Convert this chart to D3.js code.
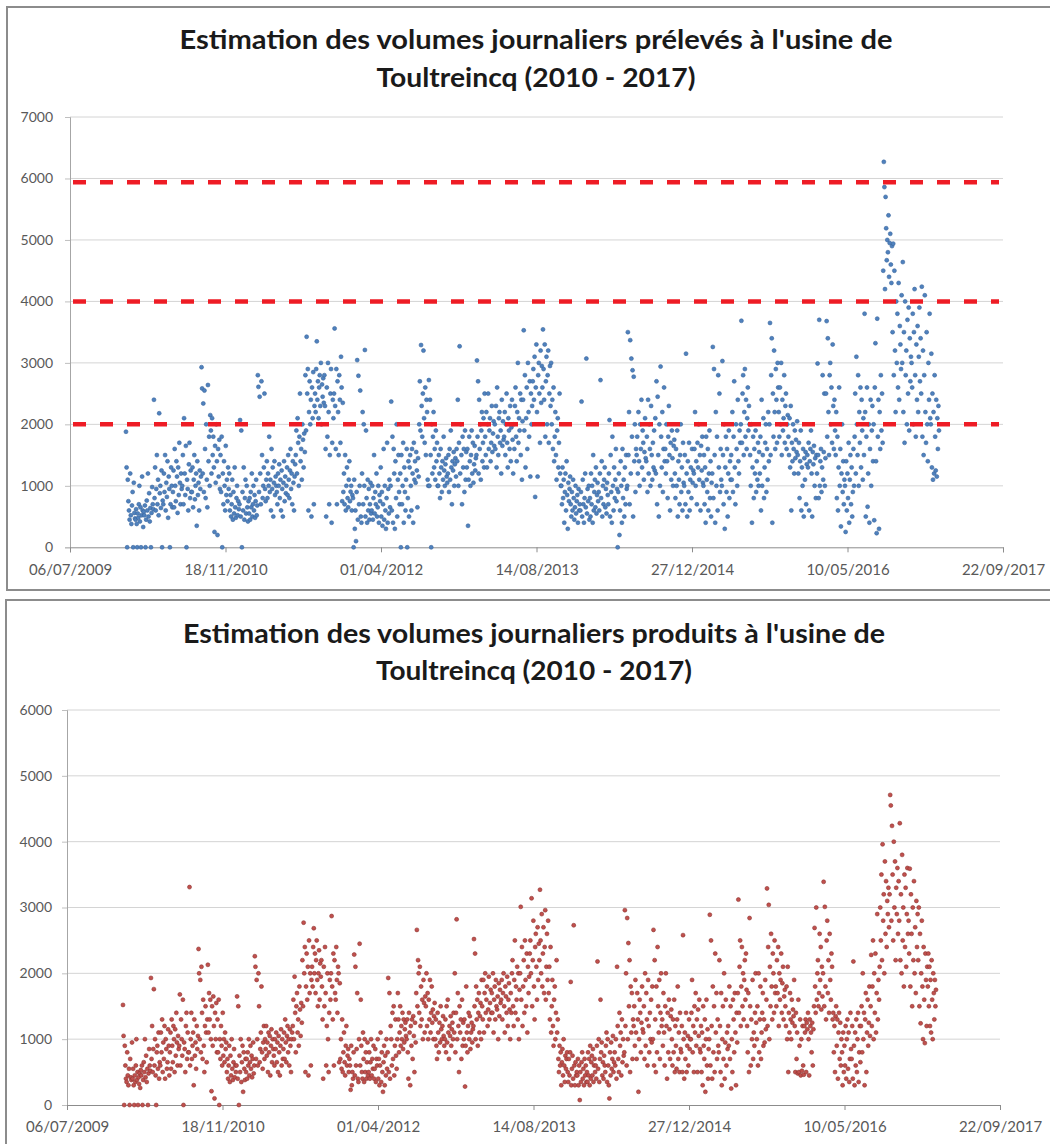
<!DOCTYPE html>
<html><head><meta charset="utf-8">
<script src="https://cdn.jsdelivr.net/npm/d3@7"></script>
<style>body{margin:0;background:#fff} svg{display:block}</style>
</head><body>
<svg id="c" width="1050" height="1144"></svg>
<script>
// ---------- DATA ----------
const firstMonth = "2010-01-01";
const lastMonthEnd = "2017-03-01";
const xTicks = ["2009-07-06","2010-11-18","2012-04-01","2013-08-14","2014-12-27","2016-05-10","2017-09-22"];
const yTicksTop = [0,1000,2000,3000,4000,5000,6000,7000];
const yTicksBottom = [0,1000,2000,3000,4000,5000,6000];
const seuils = [2000, 4000, 5940];
const titleTop = ["Estimation des volumes journaliers prélevés à l'usine de", "Toultreincq (2010 - 2017)"];
const titleBottom = ["Estimation des volumes journaliers produits à l'usine de", "Toultreincq (2010 - 2017)"];

// Volumes prélevés (m3/j), one list per month from 2010-01 to 2017-02
const preleves = [
[1880,1300,0,1100,750,600,450,1200,520,380,680,900,0,1050,560,470],
[450,620,380,0,550,480,700,1000,420,650,0,520,1150,600,330,580],
[520,680,0,450,760,600,1200,500,880,420,640,0,560,980,700,620],
[2400,800,1300,600,950,1500,700,1100,520,2180,880,1000,640,1250,0,760],
[700,1200,900,1500,600,1050,820,1400,480,1150,950,0,700,1300,1000,650],
[900,1250,650,1600,1000,750,1400,1150,560,1300,850,1700,1050,700,1200,950],
[1000,1500,700,2100,1200,850,1650,0,1100,950,600,1350,1700,800,1250,900],
[900,1300,650,1100,1500,780,1000,1200,350,1400,850,1050,600,1250,950,1150],
[2930,2585,1200,2340,900,2550,1600,800,2000,1100,650,2640,1400,1800,1000,2150],
[1900,1200,2100,1500,1800,1300,250,1650,1050,2000,1400,200,1600,1150,1750,950],
[1500,900,1800,0,1200,700,1400,1000,600,1650,850,1100,750,1300,950,1200],
[600,850,500,700,1100,450,900,550,1300,650,480,800,1000,520,750,620],
[700,2070,500,1900,0,900,600,1300,450,800,1100,550,1000,650,420,750],
[550,800,450,900,650,1200,500,700,1000,600,850,480,750,1100,520,680],
[2800,2610,900,2450,1200,700,2700,1500,800,1000,1300,2500,950,750,1100,1400],
[800,1200,1000,1800,900,1100,600,1600,950,1300,500,1050,1400,850,1150,1000],
[900,700,1200,1000,1350,800,1100,600,1250,950,500,1050,1400,750,1150,880],
[1000,1300,850,1500,1100,800,1250,1600,950,1200,700,1400,1050,600,1150,1350],
[1500,1900,1200,2100,1700,1000,1800,2500,1400,1600,1100,2000,1750,1300,1850,1550],
[2800,1900,3425,2500,2900,600,2200,2700,2000,2400,500,2600,2100,2850,700,2300],
[2500,2200,2900,3350,2400,2700,2100,2600,2800,2300,3000,2000,2650,2450,2750,2350],
[2800,2300,1600,500,2600,1800,3000,2200,700,1500,2500,2900,400,1700,2400,2100],
[2500,3560,2300,1600,2900,700,2700,2200,1500,2800,2400,1700,3100,2600,750,2350],
[900,1200,700,1500,600,1000,1300,800,650,1100,1400,750,905,1000,600,850],
[800,0,1100,300,600,100,900,3045,450,2790,700,1000,2550,500,400,1200],
[2200,700,2000,1000,3210,500,1900,800,400,1100,600,950,450,700,1050,550],
[600,1000,450,800,1500,550,900,700,1200,500,650,1000,400,850,750,1300],
[500,900,350,700,1600,450,1000,600,300,800,1700,400,950,550,1100,650],
[1000,2370,600,1800,400,1600,1200,300,1400,800,2000,500,1100,1500,900,700],
[1200,0,1500,700,1000,1700,400,1300,900,600,1100,1600,0,800,1400,500],
[1300,1500,1000,600,1600,1200,400,1700,1100,1400,1050,1550,1250,650,1450,1150],
[2000,2700,1900,3290,2300,1800,2500,3200,2100,1700,2600,1500,2400,2200,1100,1000],
[2720,1000,2400,1500,0,2000,1200,1800,2200,1300,1600,1100,1900,1400,1700,1000],
[1000,1500,1200,800,1600,1300,900,1400,1100,1800,1250,1000,1350,1450,1150,1050],
[1200,1500,900,1600,1100,1900,1300,700,1400,1250,1550,1000,1350,1450,1150,1600],
[1400,2400,1000,1700,3270,1200,2000,1500,700,1800,1300,1600,900,1900,1100,1550],
[1300,1600,350,1100,1800,1400,1000,1500,1900,1200,1700,1050,1350,1650,1250,1450],
[1500,3040,1800,2700,1200,2400,1600,2000,1100,1900,2200,1400,1700,2100,1300,2500],
[1800,1500,2200,1300,2000,2500,1600,1900,2100,1400,1700,2300,1550,1850,2050,1650],
[2000,1600,2300,1300,2600,1800,1500,2100,2200,1700,1900,1200,2400,1650,2050,1750],
[1800,2200,1500,2000,2500,1700,1300,2100,1900,1600,2300,1400,1950,2400,1750,1200],
[2000,1600,2300,2600,1800,1400,2200,3000,1700,2100,1900,2500,1500,2400,1100,2050],
[2400,3530,1900,2800,1300,2100,2600,1600,3000,2200,1800,2700,1150,2500,2000,2300],
[2700,2900,2400,3100,820,2600,3300,2200,1150,2800,3000,2500,1700,3200,2350,2950],
[2600,3545,2900,2400,3300,1800,2700,3100,2000,2800,3200,1700,2500,2950,2300,3000],
[2000,2400,1600,2600,1400,1800,2200,1500,1100,1900,2100,1300,1700,2500,1200,1000],
[1000,700,1300,800,1100,400,900,1200,600,1400,850,300,1050,750,950,1150],
[700,500,900,600,1100,800,450,650,1000,550,750,850,400,950,600,700],
[600,900,2370,500,1100,700,400,800,1200,650,3070,550,950,750,1000,450],
[800,500,1200,700,1000,400,1500,600,900,1100,650,1300,550,850,1050,750],
[900,600,1200,2720,800,1400,500,1000,700,1100,1300,650,950,550,1050,850],
[700,1200,2070,500,1500,900,400,1800,1000,600,1300,800,1100,1600,750,950],
[0,900,1200,200,600,1400,1000,400,1600,800,1100,500,1300,700,1500,950],
[1000,3500,1500,2200,700,3370,1200,3070,1800,2880,500,2775,1400,2000,900,1600],
[1500,1800,1200,2200,1400,1000,2000,1600,2400,1300,1900,1700,1100,1550,2100,1450],
[1400,1800,900,2400,1200,2000,1600,1000,2300,1500,1100,1700,1300,1900,1250,2100],
[1200,2700,700,2450,1500,500,2000,1000,2940,1800,1300,2200,900,1600,2600,1400],
[1600,1200,2000,1400,800,1800,2300,1500,600,1700,1100,1900,1450,1000,1650,1750],
[1200,800,1600,1000,1900,500,1400,1100,700,1500,2000,900,1300,600,1700,1050],
[1000,1500,700,3150,1200,500,1400,900,1700,600,1100,1300,800,1600,1050,1250],
[1200,1600,2200,1000,1400,700,1700,1300,2000,1100,1500,600,1650,1250,1800,1050],
[1000,1500,700,1300,400,1800,1100,900,1600,600,1200,1900,800,1400,500,1050],
[1200,3260,800,2900,1500,400,2200,1000,1800,600,2800,1300,2500,900,1600,1100],
[1000,3030,1500,700,2000,300,1300,1800,900,1600,500,1200,1900,800,1400,1100],
[1500,1100,2200,900,1800,2700,1300,700,2000,1600,1000,2400,1400,1200,1900,1700],
[2000,3685,1700,2500,2800,1500,2200,2900,1800,2400,1600,2100,2600,1900,2300,2000],
[1500,1000,2000,400,1300,1800,800,1600,1200,1900,900,1400,1100,1700,1000,1550],
[1200,1800,600,2400,1000,1500,2100,800,1300,1700,2000,900,1600,1100,2200,1400],
[2000,3650,1500,2800,3400,400,2500,1800,3200,2200,1600,2900,2400,1700,3000,2600],
[2200,1800,2600,2000,3000,1500,2400,1900,2100,2800,1700,2300,2500,1600,2000,2150],
[1800,1500,2100,1300,2300,600,1700,1400,2000,1600,1200,1900,1450,1750,1550,2050],
[1500,1200,1700,800,1400,1900,600,1300,1000,1600,500,1450,1100,1550,700,1350],
[1500,1300,1700,600,1400,1600,1900,1200,500,1550,1350,1650,1000,1450,800,1500],
[1200,2990,1500,800,3700,1000,1400,1600,900,1300,2800,1100,1550,2500,1000,1450],
[2500,3680,1800,3400,2200,1500,2800,3000,2000,2600,1700,3300,2300,1600,2400,1900],
[1500,2200,800,1800,600,1300,2600,1000,1600,340,1200,2000,900,1400,700,1100],
[1000,250,1400,600,1200,800,1700,400,1100,1500,700,1300,500,900,1600,1000],
[1800,2500,1200,3100,2000,1500,2800,1000,2200,1700,2600,1300,2400,1900,1100,2100],
[1500,3800,2200,500,1800,2600,660,1200,2000,400,1600,2400,1000,1900,2300,1400],
[2000,440,2600,3320,1400,230,3720,1800,2400,300,2200,1600,2800,1900,2500,1700],
[4500,6270,5860,4200,5700,5190,4670,5000,4800,5400,4400,4950,5100,4600,4300,4900],
[3500,4940,2800,4500,3200,2200,4000,3000,3800,2600,4300,2400,3600,3300,2900,4100],
[3000,4640,2200,3500,1700,4000,2800,3200,2000,3700,2500,3900,1900,3400,2700,3100],
[3000,2600,3800,2000,3500,4200,2800,1800,3300,2400,3600,2200,3100,3900,2700,3400],
[2500,4240,1800,3200,1500,2800,4100,2200,1700,3500,2000,1400,3000,2400,3800,2100],
[2000,3150,1300,2500,1100,2200,1200,2800,1800,1250,2400,1150,2100,1600,2300,1900]
];

// Volumes produits (m3/j), one list per month from 2010-01 to 2017-02
const produits = [
[1520,1050,0,900,600,400,350,800,450,300,550,0,700,420,380,950],
[400,550,300,0,450,350,600,1000,380,500,0,420,320,480,260,530],
[450,600,0,380,650,500,1000,420,750,350,550,0,480,850,600,520],
[1930,700,1200,500,850,1760,600,1000,450,0,800,900,550,1100,400,650],
[600,1100,800,1300,500,950,700,1200,400,1000,850,550,650,1150,900,450],
[800,1100,550,1300,900,650,1200,1000,500,1150,750,1400,950,600,1050,850],
[900,1680,600,1300,1000,750,1600,0,950,850,500,1200,1400,700,1100,800],
[800,3310,600,1000,1400,700,900,1100,300,1300,750,950,550,1200,850,1050],
[2370,2000,1000,1900,800,2100,1400,700,1600,900,500,1200,1500,1100,650,1300],
[2130,1100,1700,1300,1600,1000,210,1500,900,1650,1200,100,1400,1000,1550,800],
[1300,800,1600,0,1000,700,1200,900,600,1400,750,1000,650,1100,850,950],
[500,700,400,600,900,350,750,450,1000,550,380,650,850,420,600,500],
[600,1650,400,1500,0,750,500,1000,350,650,900,200,800,550,380,700],
[500,700,400,800,600,1000,450,650,900,550,750,420,700,950,480,600],
[2260,2100,700,1900,1000,600,2000,1500,650,850,1100,1800,800,550,950,1200],
[700,1000,850,1200,750,950,500,1100,800,1050,450,900,1150,650,1000,850],
[750,600,1000,850,1100,650,950,500,1050,800,450,900,1150,600,1000,700],
[850,1100,700,1300,950,650,1050,1200,800,1000,600,1150,900,500,1000,1100],
[1200,1600,1000,1950,1400,800,1500,1700,1100,1300,900,1800,1450,1050,1550,1250],
[2200,1500,2770,2000,2400,500,1800,2300,1600,2100,450,2500,1700,2000,600,1900],
[2100,1800,2400,2685,2000,2300,1700,2200,2500,1900,1500,2000,2350,1600,2150,1950],
[2200,1800,1300,400,2100,1500,2400,1700,600,1200,2000,1000,500,1400,1900,1600],
[2000,2870,1800,1300,2300,600,2200,1700,1600,2400,1900,1400,2100,2000,650,1850],
[700,1000,550,1300,500,800,1100,650,450,900,1200,600,750,850,500,700],
[600,230,900,300,500,400,800,2285,450,2100,600,850,1700,400,350,1000],
[2450,600,1600,900,500,400,1100,700,350,1000,500,800,400,650,950,450],
[500,800,400,650,1000,450,700,550,900,400,550,850,350,700,600,1000],
[400,700,300,600,1100,350,800,500,200,650,900,300,750,450,1000,550],
[800,1930,500,1700,400,1200,1000,600,1400,700,1500,450,900,1300,750,550],
[1000,1700,1300,800,1100,1500,900,1200,1000,1400,850,1300,950,1150,1250,1050],
[1000,1300,800,400,1400,1100,300,1200,900,1300,700,1350,1050,500,1250,950],
[1700,2660,1500,2200,2000,1400,2100,1200,1800,1300,1600,1000,1900,1550,1100,1650],
[1500,2000,1200,1700,1000,1600,1300,1900,1100,1400,1800,1250,1450,1000,1350,1550],
[1000,1300,900,700,1400,1100,800,1250,950,1500,1150,1000,1200,1350,1050,900],
[1000,1300,800,1500,950,1600,1100,700,1200,1050,1350,900,1150,1250,1000,1400],
[1100,2000,800,1400,2820,1000,1700,1200,500,1500,1100,1300,700,1600,900,1250],
[1000,1300,280,900,1800,1100,800,1200,1400,1000,1350,850,1100,1250,950,1150],
[1200,2520,1500,2300,1000,1800,1300,1600,900,1400,1700,1100,1350,1550,1000,1900],
[1500,1300,1900,1100,1700,2000,1400,1600,1800,1200,1450,1950,1300,1550,1750,1400],
[1700,1400,2000,1100,1600,1800,1300,1900,1500,1450,1650,1000,1850,1350,1750,1550],
[1600,1900,1300,1700,2000,1500,1100,1800,1650,1400,1950,1200,1600,1850,1450,1000],
[1700,1400,2000,2200,1500,1200,1900,2500,1400,1800,1600,2100,1300,2000,1000,1750],
[2000,3010,1600,2400,1200,1800,2200,1400,2500,1900,1500,2300,1100,2100,1700,1950],
[2300,2500,2000,3140,1500,2200,2800,1800,1300,2400,2600,2100,1600,2700,1900,2450],
[2200,3270,2500,2000,2900,1800,2300,2700,1700,2400,2960,1600,2100,2600,1900,2800],
[1700,2100,1300,2400,1100,1500,1900,1200,900,1600,1800,1000,1400,2200,1100,1300],
[700,500,900,600,800,300,650,850,450,1000,600,350,750,550,700,800],
[500,350,700,450,800,1870,300,550,750,400,2730,600,300,650,450,500],
[450,700,300,600,75,500,350,650,800,400,550,300,700,450,600,350],
[500,350,800,450,700,300,900,400,650,750,450,850,350,600,700,500],
[600,400,900,2180,550,1000,350,700,1600,800,950,450,650,400,750,600],
[500,900,1100,350,1000,600,300,100,800,450,950,550,700,1050,500,650],
[800,600,1000,400,2100,1200,700,500,1400,900,1100,450,1300,650,1000,750],
[800,2960,1200,2000,600,2840,1000,2460,1500,2200,500,1800,1100,1700,700,1300],
[1200,1500,900,1900,1100,700,1700,1300,200,1000,1600,1400,800,1250,1800,1150],
[1100,1500,700,2000,900,1700,1300,600,1900,1200,800,1400,1000,1600,950,1800],
[1000,2660,600,2200,1300,500,1800,800,2400,1500,1100,1900,700,1400,2000,1200],
[1300,900,1700,1100,600,1500,2000,1200,400,1400,800,1600,1150,700,1350,1450],
[1000,600,1300,800,1600,500,1200,900,550,1300,1800,700,1100,500,1400,850],
[800,1200,500,2580,1000,400,1100,700,1400,500,900,1050,600,1300,850,1000],
[1000,1400,1900,800,1200,500,1500,1100,1700,900,1300,500,1450,1050,1600,850],
[800,1200,500,1100,300,1500,900,700,1300,200,1000,1600,600,1150,400,850],
[1000,2890,600,2500,1200,400,1800,800,1500,500,2300,1100,1700,700,1300,900],
[800,2200,1200,500,1700,300,1000,1500,700,2000,400,950,1600,600,1100,850],
[1200,900,1800,700,1500,250,1000,500,1600,1300,800,1700,1100,300,1400,950],
[1700,3120,1400,2100,2500,1200,1800,2400,1500,2000,1300,1900,2200,1600,2300,1750],
[1200,800,1700,500,2840,1500,600,1300,1000,1900,700,1100,900,1400,2000,1250],
[1000,1500,600,2000,800,1300,1800,700,1100,1400,1700,900,1300,950,1900,1150],
[1600,3290,1200,2400,3040,1000,2100,1500,2600,1800,1300,2300,2000,1400,2500,1700],
[1800,1500,2200,1700,2400,1200,2000,1600,1900,2300,1400,1850,2100,1300,1650,1750],
[1500,1200,1800,1000,2100,500,1400,1100,1700,1300,1000,1600,1250,1450,1350,1900],
[1200,500,1400,700,1100,480,1600,500,900,1300,450,1000,520,1200,600,460],
[1200,1100,1300,500,1250,1150,1400,1000,450,1300,1200,1100,800,1250,600,1150],
[1500,2690,1800,1400,3000,1600,2000,2200,1500,1700,2600,1900,2400,1450,2100,1650],
[2000,3390,1500,3010,1800,1300,2500,2800,1700,2200,1400,2600,1900,1600,2300,2100],
[1300,1400,800,1200,500,1350,1500,900,1300,400,1100,1400,700,1250,600,1000],
[800,300,1100,500,900,600,1200,400,1000,1300,550,1100,350,700,1400,850],
[700,1200,400,2180,900,300,1100,600,1300,500,1000,1400,350,800,1200,650],
[1200,1500,800,2000,1000,1400,300,1300,1700,500,1100,1600,900,1250,1800,1050],
[1500,2280,1200,1800,2500,1000,2000,1400,2300,1100,1700,2900,1300,1900,1600,2100],
[3000,2500,3500,2200,3960,2800,3200,2000,3700,2600,3400,2400,3100,2900,3300,2700],
[3200,4710,4550,2800,4240,3500,2500,4000,3000,3700,2200,3300,2900,3600,2600,3400],
[2800,4280,2200,3200,2000,3800,2500,3000,1800,3500,2400,3300,2100,2900,3600,2600],
[2800,2300,3590,1800,3200,2600,1500,3000,2200,3400,2000,2700,1700,3100,2400,2900],
[2200,3000,1500,2600,1240,2000,2800,1800,1000,2400,1600,940,2300,1900,1200,2100],
[1800,2300,1500,2100,1200,1900,1100,2200,1600,1000,2000,1700,1300,1900,1500,1750]
];

// ---------- DRAWING ----------
const svg = d3.select("#c");
const parse = d3.utcParse("%Y-%m-%d");
const fmt = d3.utcFormat("%d/%m/%Y");
const months = d3.utcMonth.range(parse(firstMonth), parse(lastMonthEnd));

function toPoints(series) {
  const pts = [];
  series.forEach((vals, k) => {
    const m0 = months[k];
    const m1 = d3.utcMonth.offset(m0, 1);
    const span = m1 - m0;
    vals.forEach((v, i) => {
      pts.push({date: new Date(+m0 + (i + 0.5) * span / vals.length), value: v});
    });
  });
  return pts;
}

function drawChart(cfg) {
  const g = svg.append("g");
  g.append("rect")
    .attr("x", cfg.frame[0]).attr("y", cfg.frame[1])
    .attr("width", cfg.frame[2]).attr("height", cfg.frame[3])
    .attr("fill", "#fff").attr("stroke", "#8c8c8c").attr("stroke-width", 2);

  const x = d3.scaleUtc()
    .domain([parse(xTicks[0]), parse(xTicks[xTicks.length - 1])])
    .range([cfg.left, cfg.right]);
  const y = d3.scaleLinear().domain([0, d3.max(cfg.yTicks)]).range([cfg.bottom, cfg.top]);

  // gridlines
  g.append("g").selectAll("line").data(cfg.yTicks.filter(d => d > 0)).join("line")
    .attr("x1", cfg.left).attr("x2", cfg.right)
    .attr("y1", d => y(d)).attr("y2", d => y(d))
    .attr("stroke", "#d4d4d4").attr("stroke-width", 1);

  // y axis
  const ya = g.append("g").attr("transform", `translate(${cfg.left},0)`)
    .call(d3.axisLeft(y).tickValues(cfg.yTicks).tickSize(5).tickPadding(cfg.yPad).tickFormat(d3.format("d")));
  ya.select(".domain").attr("stroke", "#a6a6a6");
  ya.selectAll(".tick line").attr("stroke", "#bfbfbf");
  ya.selectAll("text").attr("fill", "#595959").style("font-family", "Lato, 'Open Sans', sans-serif").style("font-size", "14px");

  // x axis
  const xa = g.append("g").attr("transform", `translate(0,${cfg.bottom})`)
    .call(d3.axisBottom(x).tickValues(xTicks.map(parse)).tickSize(5).tickPadding(cfg.xPad).tickFormat(fmt));
  xa.select(".domain").attr("stroke", "#8c8c8c");
  xa.selectAll(".tick line").attr("stroke", "#8c8c8c");
  xa.selectAll("text").attr("fill", "#595959").style("font-family", "Lato, 'Open Sans', sans-serif").style("font-size", "15px");

  // points
  g.append("g").selectAll("circle").data(toPoints(cfg.series)).join("circle")
    .attr("cx", d => x(d.date)).attr("cy", d => y(d.value)).attr("r", 2)
    .attr("fill", cfg.color).attr("stroke", cfg.edge).attr("stroke-width", 0.6);

  // threshold lines
  if (cfg.thresholds) {
    g.append("g").selectAll("line").data(cfg.thresholds).join("line")
      .attr("x1", cfg.left + 3).attr("x2", cfg.right - 4)
      .attr("y1", d => y(d)).attr("y2", d => y(d))
      .attr("stroke", "#ee1c25").attr("stroke-width", 4.5)
      .attr("stroke-dasharray", "13,14");
  }

  // title
  g.append("g").selectAll("text").data(cfg.title).join("text")
    .attr("x", cfg.titleX).attr("y", (d, i) => cfg.titleY[i])
    .attr("text-anchor", "middle")
    .attr("textLength", (d, i) => cfg.titleW[i]).attr("lengthAdjust", "spacingAndGlyphs")
    .attr("fill", "#1a1a1a")
    .style("font-family", "Lato, 'Open Sans', sans-serif").style("font-weight", "bold").style("font-size", "26px")
    .text(d => d);
}

drawChart({
  frame: [7, 7, 1050, 583],
  left: 70, right: 1003, top: 117, bottom: 547.3,
  yTicks: yTicksTop, yPad: 12, xPad: 12,
  series: preleves, color: "#4f81bd", edge: "#3a679e",
  thresholds: seuils,
  title: titleTop, titleX: 536, titleY: [49, 87], titleW: [713, 319]
});

drawChart({
  frame: [6, 600, 1050, 560],
  left: 67, right: 1000, top: 710, bottom: 1105,
  yTicks: yTicksBottom, yPad: 10, xPad: 11,
  series: produits, color: "#c0504d", edge: "#8e3431",
  thresholds: null,
  title: titleBottom, titleX: 534, titleY: [643, 680], titleW: [702, 316]
});
</script>
</body></html>
